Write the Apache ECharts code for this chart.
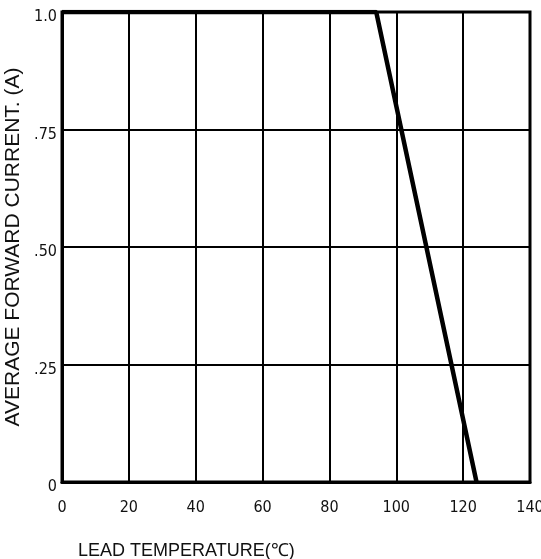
<!DOCTYPE html>
<html><head><meta charset="utf-8">
<script src="https://cdn.jsdelivr.net/npm/echarts@6/dist/echarts.min.js"></script>
<style>html,body{margin:0;padding:0;background:#fff}#c{width:541px;height:559px}</style>
</head><body><div id="c"></div>
<script>
var xTicks = [0, 20, 40, 60, 80, 100, 120, 140];
var yTickLabels = {0: '0', 0.25: '.25', 0.5: '.50', 0.75: '.75', 1: '1.0'};
var temperature = [0, 94, 124];
var current = [1.0, 1.0, 0];
var xName = 'LEAD TEMPERATURE(\u2103)';
var yName = 'AVERAGE FORWARD CURRENT. (A)';

var tickFont = '"DejaVu Sans Condensed", "Liberation Sans"';
var chart = echarts.init(document.getElementById('c'));
chart.setOption({
  animation: false,
  grid: {left: 62, right: 11, top: 12, bottom: 77, containLabel: false, outerBoundsMode: 'none',
    show: true, borderColor: '#000', borderWidth: 3},
  title: {text: xName, left: 73, top: 537, textStyle: {fontFamily: 'Liberation Sans', fontWeight: 'normal', fontSize: 18, color: '#111'}},
  xAxis: {
    type: 'value', min: 0, max: 140, interval: 20,
    axisLine: {show: true, lineStyle: {color: '#000', width: 3}},
    axisTick: {show: false},
    splitLine: {show: true, lineStyle: {color: '#000', width: 2}},
    axisLabel: {margin: 18, color: '#111', fontFamily: tickFont, fontSize: 16,
      formatter: function (v) { return xTicks.indexOf(v) >= 0 ? String(v) : ''; }}
  },
  yAxis: {
    type: 'value', min: 0, max: 1, interval: 0.25,
    name: yName, nameLocation: 'middle', nameGap: 38,
    nameTextStyle: {fontFamily: 'Liberation Sans', fontSize: 21, color: '#111'},
    axisLine: {show: true, lineStyle: {color: '#000', width: 3}},
    axisTick: {show: false},
    splitLine: {show: true, lineStyle: {color: '#000', width: 2}},
    axisLabel: {margin: 5, color: '#111', fontFamily: tickFont, fontSize: 16, verticalAlign: 'top', lineHeight: 10,
      formatter: function (v) { return yTickLabels[v] !== undefined ? yTickLabels[v] : ''; }}
  },
  series: [{
    type: 'line', data: temperature.map(function (t, i) { return [t, current[i]]; }),
    symbol: 'none', lineStyle: {color: '#000', width: 4.5}
  }]
});
</script></body></html>
